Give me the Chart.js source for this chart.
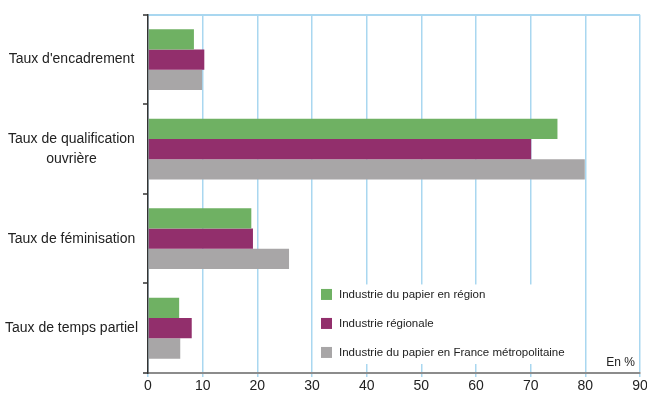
<!DOCTYPE html>
<html>
<head>
<meta charset="utf-8">
<script src="https://cdn.jsdelivr.net/npm/chart.js@4"></script>
<style>
  html, body { margin: 0; padding: 0; background: #fff; }
  #wrap { width: 647px; height: 396px; position: relative; }
</style>
</head>
<body>
<div id="wrap"><canvas id="chart"></canvas></div>
<script>
const categories = [
    "Taux d'encadrement",
    ["Taux de qualification", "ouvrière"],
    "Taux de féminisation",
    "Taux de temps partiel"
];
const seriesNames = [
    "Industrie du papier en région",
    "Industrie régionale",
    "Industrie du papier en France métropolitaine"
];
const papierRegion = [8.4, 74.9, 18.9, 5.7];
const industrieRegion = [10.3, 70.1, 19.2, 8.0];
const papierFrance = [9.9, 79.9, 25.8, 5.9];
const xTicks = [0, 10, 20, 30, 40, 50, 60, 70, 80, 90];

const FONT = '"Liberation Sans", Arial, sans-serif';
const gridBlue = '#a9d7f0';

// legend box drawn inside the plot, over the grid
const insideLegend = {
    id: 'insideLegend',
    afterDatasetsDraw(chart) {
        const ctx = chart.ctx;
        const x = chart.scales.x;
        const y = chart.scales.y;
        const area = chart.chartArea;
        const left = x.getPixelForValue(30) + 2;
        const right = x.getPixelForValue(80) - 3;
        const top = (y.getPixelForTick(2) + y.getPixelForTick(3)) / 2 + 1;
        const bottom = area.bottom - 9;
        ctx.save();
        ctx.fillStyle = '#fff';
        ctx.fillRect(left, top, right - left, bottom - top);
        ctx.font = '11.5px ' + FONT;
        ctx.textBaseline = 'middle';
        chart.data.datasets.forEach((ds, i) => {
            const cy = top + 10 + i * 29;
            ctx.fillStyle = ds.backgroundColor;
            ctx.fillRect(left + 7, cy - 5.5, 11, 11);
            ctx.fillStyle = '#222';
            ctx.textAlign = 'left';
            ctx.fillText(ds.label, left + 25, cy);
        });
        ctx.font = '12px ' + FONT;
        ctx.textAlign = 'right';
        ctx.fillText('En %', area.right - 5, area.bottom - 10);
        ctx.restore();
    }
};

new Chart(document.getElementById('chart'), {
    type: 'bar',
    data: {
        labels: categories,
        datasets: [
            { label: seriesNames[0], data: papierRegion, backgroundColor: '#6fb163' },
            { label: seriesNames[1], data: industrieRegion, backgroundColor: '#922f6c' },
            { label: seriesNames[2], data: papierFrance, backgroundColor: '#a8a6a7' }
        ]
    },
    options: {
        indexAxis: 'y',
        responsive: true,
        maintainAspectRatio: false,
        animation: false,
        categoryPercentage: 0.68,
        barPercentage: 1,
        layout: { padding: { top: 12, right: 0, left: 0, bottom: 0 } },
        plugins: {
            legend: { display: false },
            tooltip: { enabled: false }
        },
        scales: {
            x: {
                min: 0,
                max: 90,
                afterBuildTicks: (axis) => { axis.ticks = xTicks.map(v => ({ value: v })); },
                afterFit: (axis) => {
                    axis.height = 23;
                    axis.paddingRight = 7;
                },
                border: { color: '#8c8c8c', width: 2 },
                grid: {
                    color: gridBlue,
                    lineWidth: 1.5,
                    tickLength: 4,
                    tickColor: gridBlue
                },
                ticks: {
                    color: '#222',
                    padding: 1,
                    font: { family: FONT, size: 14 }
                }
            },
            y: {
                afterFit: (axis) => { axis.width = 148; },
                border: { color: '#333', width: 1.5 },
                grid: {
                    offset: true,
                    color: (c) => c.index === 0 ? gridBlue : 'rgba(0,0,0,0)',
                    lineWidth: 2,
                    tickLength: 5,
                    tickColor: '#666'
                },
                ticks: {
                    color: '#222',
                    padding: 5,
                    crossAlign: 'center',
                    font: { family: FONT, size: 14, lineHeight: 1.4 }
                }
            }
        }
    },
    plugins: [insideLegend]
});
</script>
</body>
</html>
